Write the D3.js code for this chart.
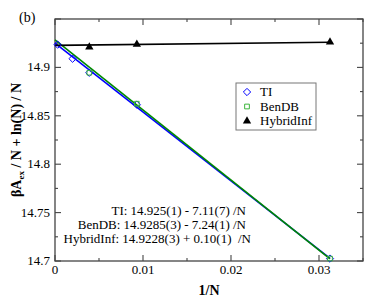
<!DOCTYPE html>
<html>
<head>
<meta charset="utf-8">
<script src="https://cdn.jsdelivr.net/npm/d3@7"></script>
<style>
  body { margin: 0; background: #fff; }
</style>
</head>
<body>
<div id="chart"></div>
<script>
// data (x = 1/N)
const tiX = [0.0003, 0.002, 0.0039, 0.0093, 0.03125];
const tiY = [14.9235, 14.909, 14.8945, 14.8615, 14.7025];
const benX = [0.0039, 0.0093, 0.03125];
const benY = [14.8945, 14.8625, 14.7025];
const hybX = [0.0039, 0.0093, 0.03125];
const hybY = [14.921, 14.9238, 14.9262];

// fit lines: a + b / N
const fits = [
    {name: "TI", a: 14.925, b: -7.11, color: "#0000ff"},
    {name: "BenDB", a: 14.9285, b: -7.24, color: "#008a00"},
    {name: "HybridInf", a: 14.9228, b: 0.10, color: "#000000"}
];
const fitXRange = [0, 0.03125];

const xTicks = [0, 0.01, 0.02, 0.03];
const yTicks = [14.7, 14.75, 14.8, 14.85, 14.9];
const fitLabels = [
    "TI: 14.925(1) - 7.11(7) /N",
    "BenDB: 14.9285(3) - 7.24(1) /N",
    "HybridInf: 14.9228(3) + 0.10(1)  /N"
];

const width = 391, height = 308;
const margin = {top: 19, left: 55, bottom: 47, right: 28};
const plotW = width - margin.left - margin.right;
const plotH = height - margin.top - margin.bottom;
const serif = "'Liberation Serif', 'DejaVu Serif', serif";

const svg = d3.select("#chart").append("svg")
    .attr("width", width)
    .attr("height", height)
    .style("font-family", serif);

const g = svg.append("g")
    .attr("transform", `translate(${margin.left}, ${margin.top})`);

const x = d3.scaleLinear().domain([0, 0.035]).range([0, plotW]);
const y = d3.scaleLinear().domain([14.7, 14.95]).range([plotH, 0]);

const axisColor = "#444";

// frame
g.append("rect")
    .attr("width", plotW).attr("height", plotH)
    .attr("fill", "none").attr("stroke", axisColor).attr("stroke-width", 1.3);

// inward ticks on all four sides
const xMajor = d3.range(0, 0.0351, 0.01);
const xMinor = d3.range(0.005, 0.0351, 0.01);
const yMajor = d3.range(14.7, 14.951, 0.05);
const yMinor = d3.range(14.725, 14.951, 0.05);

function xTickLines(vals, len) {
    vals.forEach(v => {
        g.append("line").attr("x1", x(v)).attr("x2", x(v))
            .attr("y1", plotH).attr("y2", plotH - len)
            .attr("stroke", axisColor).attr("stroke-width", 1.1);
        g.append("line").attr("x1", x(v)).attr("x2", x(v))
            .attr("y1", 0).attr("y2", len)
            .attr("stroke", axisColor).attr("stroke-width", 1.1);
    });
}
function yTickLines(vals, len) {
    vals.forEach(v => {
        g.append("line").attr("y1", y(v)).attr("y2", y(v))
            .attr("x1", 0).attr("x2", len)
            .attr("stroke", axisColor).attr("stroke-width", 1.1);
        g.append("line").attr("y1", y(v)).attr("y2", y(v))
            .attr("x1", plotW).attr("x2", plotW - len)
            .attr("stroke", axisColor).attr("stroke-width", 1.1);
    });
}
xTickLines(xMajor, 6);
xTickLines(xMinor, 3);
yTickLines(yMajor, 6);
yTickLines(yMinor, 3);

// tick labels
g.selectAll(".xlab").data(xTicks).join("text")
    .attr("x", d => x(d)).attr("y", plotH + 13)
    .attr("text-anchor", "middle").attr("font-size", 13)
    .text(d => d === 0 ? "0" : d3.format(".2f")(d));
g.selectAll(".ylab").data(yTicks).join("text")
    .attr("x", -5).attr("y", d => y(d) + 4)
    .attr("text-anchor", "end").attr("font-size", 13)
    .text(d => d3.format(".2~f")(d));

// fit lines
const line = d3.line().x(d => x(d[0])).y(d => y(d[1]));
fits.forEach(f => {
    g.append("path")
        .datum(fitXRange.map(v => [v, f.a + f.b * v]))
        .attr("d", line)
        .attr("fill", "none")
        .attr("stroke", f.color)
        .attr("stroke-width", 1.6);
});

// markers
const diamond = d3.symbol().type(d3.symbolDiamond2).size(34);
const square = d3.symbol().type(d3.symbolSquare2).size(28);
const triangle = d3.symbol().type(d3.symbolTriangle).size(30);

g.selectAll(".ti").data(d3.zip(tiX, tiY)).join("path")
    .attr("transform", d => `translate(${x(d[0])}, ${y(d[1])})`)
    .attr("d", diamond)
    .attr("fill", "none").attr("stroke", "#0000ff").attr("stroke-width", 1);
g.selectAll(".ben").data(d3.zip(benX, benY)).join("path")
    .attr("transform", d => `translate(${x(d[0])}, ${y(d[1])})`)
    .attr("d", square)
    .attr("fill", "none").attr("stroke", "#3cb43c").attr("stroke-width", 1);
g.selectAll(".hyb").data(d3.zip(hybX, hybY)).join("path")
    .attr("transform", d => `translate(${x(d[0])}, ${y(d[1])})`)
    .attr("d", triangle)
    .attr("fill", "#000");

// legend
const legend = svg.append("g").attr("transform", "translate(236, 83)");
legend.append("rect")
    .attr("width", 80).attr("height", 47)
    .attr("fill", "#fff").attr("stroke", "#777").attr("stroke-width", 1);
const legendItems = [
    {label: "TI", sym: diamond, fill: "none", stroke: "#0000ff"},
    {label: "BenDB", sym: square, fill: "none", stroke: "#3cb43c"},
    {label: "HybridInf", sym: triangle, fill: "#000", stroke: "none"}
];
legendItems.forEach((d, i) => {
    const yy = 9 + i * 14.5;
    legend.append("path")
        .attr("transform", `translate(11, ${yy})`)
        .attr("d", d.sym)
        .attr("fill", d.fill).attr("stroke", d.stroke);
    legend.append("text")
        .attr("x", 24).attr("y", yy + 4)
        .attr("font-size", 13)
        .text(d.label);
});

// fit text
const fitEnds = [246, 246, 251];
fitLabels.forEach((t, i) => {
    svg.append("text")
        .attr("x", fitEnds[i]).attr("y", 215 + i * 14)
        .attr("text-anchor", "end")
        .attr("xml:space", "preserve")
        .attr("font-size", 13)
        .style("white-space", "pre")
        .text(t);
});

// axis titles
svg.append("text")
    .attr("x", margin.left + plotW / 2).attr("y", 295)
    .attr("text-anchor", "middle")
    .attr("font-size", 14).attr("font-weight", "bold")
    .text("1/N");

const yt = svg.append("text")
    .attr("transform", `translate(21, ${margin.top + plotH / 2}) rotate(-90)`)
    .attr("text-anchor", "middle")
    .attr("font-size", 14).attr("font-weight", "bold");
yt.append("tspan").text("βA");
yt.append("tspan").attr("dy", 3).attr("font-size", 9).text("ex");
yt.append("tspan").attr("dy", -3).text(" / N + ln(N) / N");

svg.append("text")
    .attr("x", 19).attr("y", 22)
    .attr("font-size", 14)
    .text("(b)");
</script>
</body>
</html>
